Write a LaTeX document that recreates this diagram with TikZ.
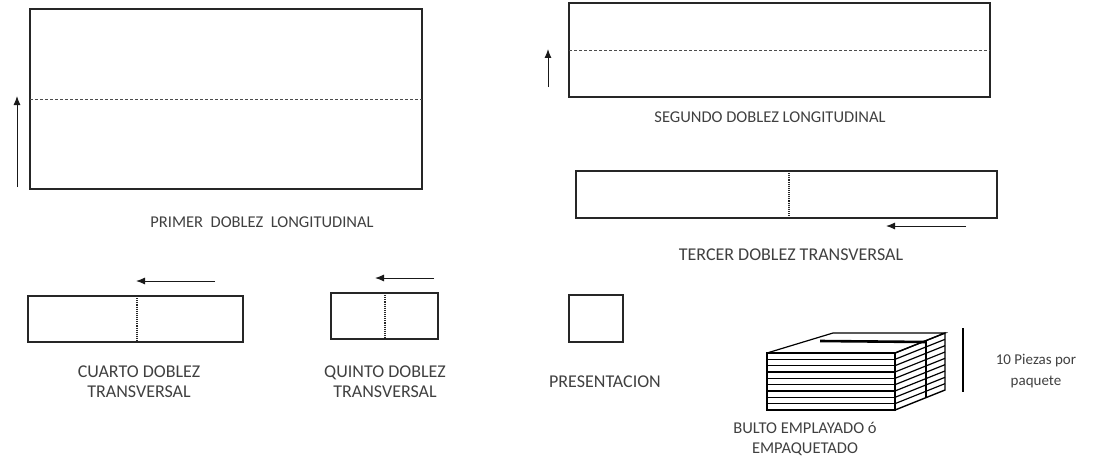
\documentclass[tikz,border=0pt]{standalone}
\usepackage{fontspec}
\usetikzlibrary{arrows.meta}
\setmainfont{Carlito}
\begin{document}
\begin{tikzpicture}[x=1pt,y=1pt,yscale=-1,xscale=1,
  hoja/.style={draw=black!85,line width=1.3pt},
  doblez/.style={draw=black!70,line width=0.7pt,densely dashed},
  doblezv/.style={draw=black!85,line width=1.1pt,densely dotted},
  flecha/.style={draw=black!90,line width=1pt,-{Latex[length=9pt,width=7pt]}},
  etiqueta/.style={inner sep=0.75pt,align=center,text=black!75,font=\fontsize{18}{20}\selectfont},
  etiquetab/.style={etiqueta,font=\fontsize{16.5}{20}\selectfont},
  etiquetac/.style={etiqueta,font=\fontsize{15}{21}\selectfont}]
\path[use as bounding box] (0,0) rectangle (1105,460);

%Hojas
\draw[hoja] (30,9) rectangle (422,189);
\draw[doblez] (30,99) -- (422,99);
\draw[hoja] (569,3) rectangle (990,97);
\draw[doblez] (569,50) -- (990,50);
\draw[hoja] (576,171) rectangle (997,218);
\draw[doblezv] (789,171) -- (789,218);
\draw[hoja] (28,296) rectangle (243,342);
\draw[doblezv] (137,296) -- (137,342);
\draw[hoja] (331,293) rectangle (438,339);
\draw[doblezv] (385,293) -- (385,339);
\draw[hoja] (569,295) rectangle (623,342);

%Flechas
\coordinate (f1a) at (17,187);
\coordinate (f1b) at (17,96);
\draw[flecha] (f1a) -- (f1b);
\coordinate (f2a) at (548,87);
\coordinate (f2b) at (548,49);
\draw[flecha] (f2a) -- (f2b);
\coordinate (f3a) at (966,226);
\coordinate (f3b) at (886,226);
\draw[flecha] (f3a) -- (f3b);
\coordinate (f4a) at (215,281);
\coordinate (f4b) at (136,281);
\draw[flecha] (f4a) -- (f4b);
\coordinate (f5a) at (434,278);
\coordinate (f5b) at (375,278);
\draw[flecha] (f5a) -- (f5b);

%Bulto
\draw[line width=1.2pt] (767,353) -- (833,333) -- (945,333) -- (895,353);
\draw[line width=2.6pt] (820,341) -- (926,342);
\draw[line width=1.4pt] (895,353) -- (945,333) -- (945,390) -- (895,410) -- cycle;
\draw[line width=1.6pt] (767,410) -- (767,353) -- (895,353) -- (895,410) -- cycle;
\draw[line width=1.8pt] (926,341) -- (926,398);
\foreach \i in {1,...,8}{
  \draw[line width=1.2pt] (767,353+6.33*\i) -- (895,353+6.33*\i);
  \draw[line width=1.2pt] (895,353+6.33*\i) -- (945,333+6.33*\i);
}
\draw[line width=1.3pt] (963,328) -- (963,392);

%Textos
\node[etiquetab] (t1) at (262,222) {PRIMER\ \ DOBLEZ\ \ LONGITUDINAL};
\node[etiquetab] (t2) at (770,117) {SEGUNDO DOBLEZ LONGITUDINAL};
\node[etiqueta] (t3) at (791,255) {TERCER DOBLEZ TRANSVERSAL};
\node[etiqueta] (t4) at (139,382) {CUARTO DOBLEZ\\TRANSVERSAL};
\node[etiqueta] (t5) at (385,382) {QUINTO DOBLEZ\\TRANSVERSAL};
\node[etiqueta] (t6) at (605,382) {PRESENTACION};
\node[etiquetab] (t7) at (805,439) {BULTO EMPLAYADO ó\\EMPAQUETADO};
\node[etiquetac] (t8) at (1036,371) {10 Piezas por\\paquete};
\end{tikzpicture}
\end{document}
